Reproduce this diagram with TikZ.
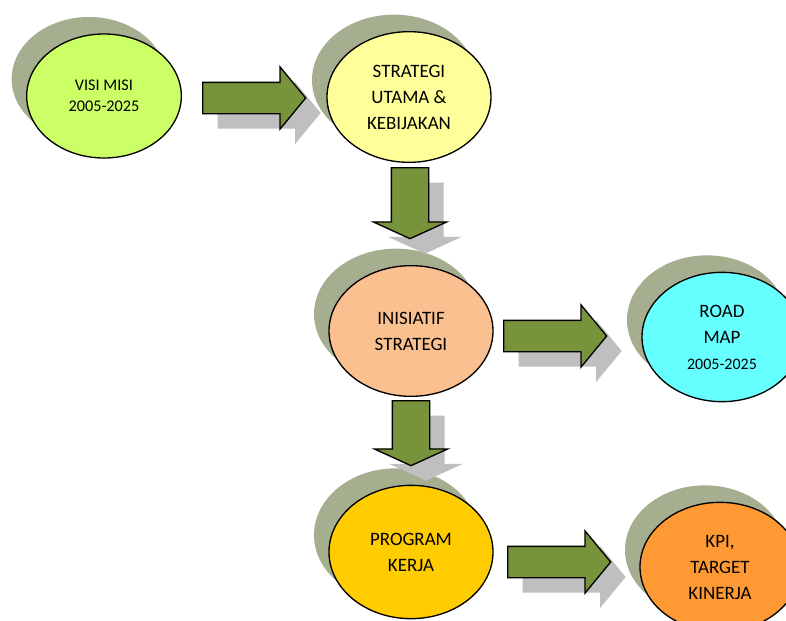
\documentclass[tikz,border=0pt]{standalone}
\usepackage{fontspec}
\setmainfont{Carlito}
\usetikzlibrary{shapes.geometric,shapes.arrows,shadows}

\definecolor{shadowolive}{RGB}{165,174,142}
\definecolor{shadowgray}{RGB}{191,191,191}
\definecolor{arrowgreen}{RGB}{119,147,60}
\definecolor{visifill}{RGB}{204,255,102}
\definecolor{strategifill}{RGB}{255,255,153}
\definecolor{inisiatiffill}{RGB}{250,192,144}
\definecolor{roadmapfill}{RGB}{102,255,255}
\definecolor{programfill}{RGB}{255,204,0}
\definecolor{kpifill}{RGB}{255,153,51}

\tikzset{
  goal/.style={ellipse, draw=black, line width=1pt, inner sep=0pt,
    minimum width=123pt, minimum height=98pt, align=center,
    font=\fontsize{14.2}{19.5}\selectfont,
    drop shadow={shadow xshift=-11.25pt, shadow yshift=12.75pt, fill=shadowolive, opacity=1}},
  flowright/.style={single arrow, draw=black, line width=1pt, fill=arrowgreen,
    anchor=tail, inner xsep=0pt, inner ysep=11.25pt, minimum height=77.25pt,
    single arrow head extend=11.6pt, single arrow tip angle=101,
    drop shadow={shadow xshift=11.25pt, shadow yshift=-11.25pt, fill=shadowgray, opacity=1}},
  flowdown/.style={single arrow, draw=black, line width=1pt, fill=arrowgreen,
    anchor=tail, rotate=-90, inner xsep=0pt, inner ysep=13.5pt,
    single arrow head extend=13.5pt, single arrow tip angle=131,
    drop shadow={shadow xshift=11.25pt, shadow yshift=-11.25pt, fill=shadowgray, opacity=1}}
}

\begin{document}
\begin{tikzpicture}[x=0.75pt,y=-0.75pt]
\clip (0,0) rectangle (786,621);

% tujuan
\node[goal, fill=visifill, minimum width=116pt, minimum height=93pt,
  font=\fontsize{12.2}{15.75}\selectfont] (visi) at (104,96) {VISI MISI\\2005-2025};
\node[goal, fill=strategifill] (strategi) at (409,97) {STRATEGI\\UTAMA \&\\KEBIJAKAN};
\node[goal, fill=inisiatiffill] (inisiatif) at (411,331) {INISIATIF\\STRATEGI};
\node[goal, fill=roadmapfill, minimum width=120pt, minimum height=97pt] (roadmap) at (722,337)
  {ROAD\\MAP\\{\fontsize{12}{19.5}\selectfont 2005-2025}};
\node[goal, fill=programfill, minimum height=100pt] (program) at (411,552) {PROGRAM\\KERJA};
\node[goal, fill=kpifill, minimum width=120pt, minimum height=97pt] (kpi) at (720,567)
  {KPI,\\TARGET\\KINERJA};

% panah
\node[flowright] (visikestrategi) at (202,98) {};
\node[flowdown, minimum height=53.25pt] (strategikeinisiatif) at (410,167) {};
\node[flowright] (inisiatifkeroadmap) at (503,336) {};
\node[flowdown, minimum height=48.75pt] (inisiatifkeprogram) at (411,400) {};
\node[flowright] (programkekpi) at (507,562) {};
\end{tikzpicture}
\end{document}
